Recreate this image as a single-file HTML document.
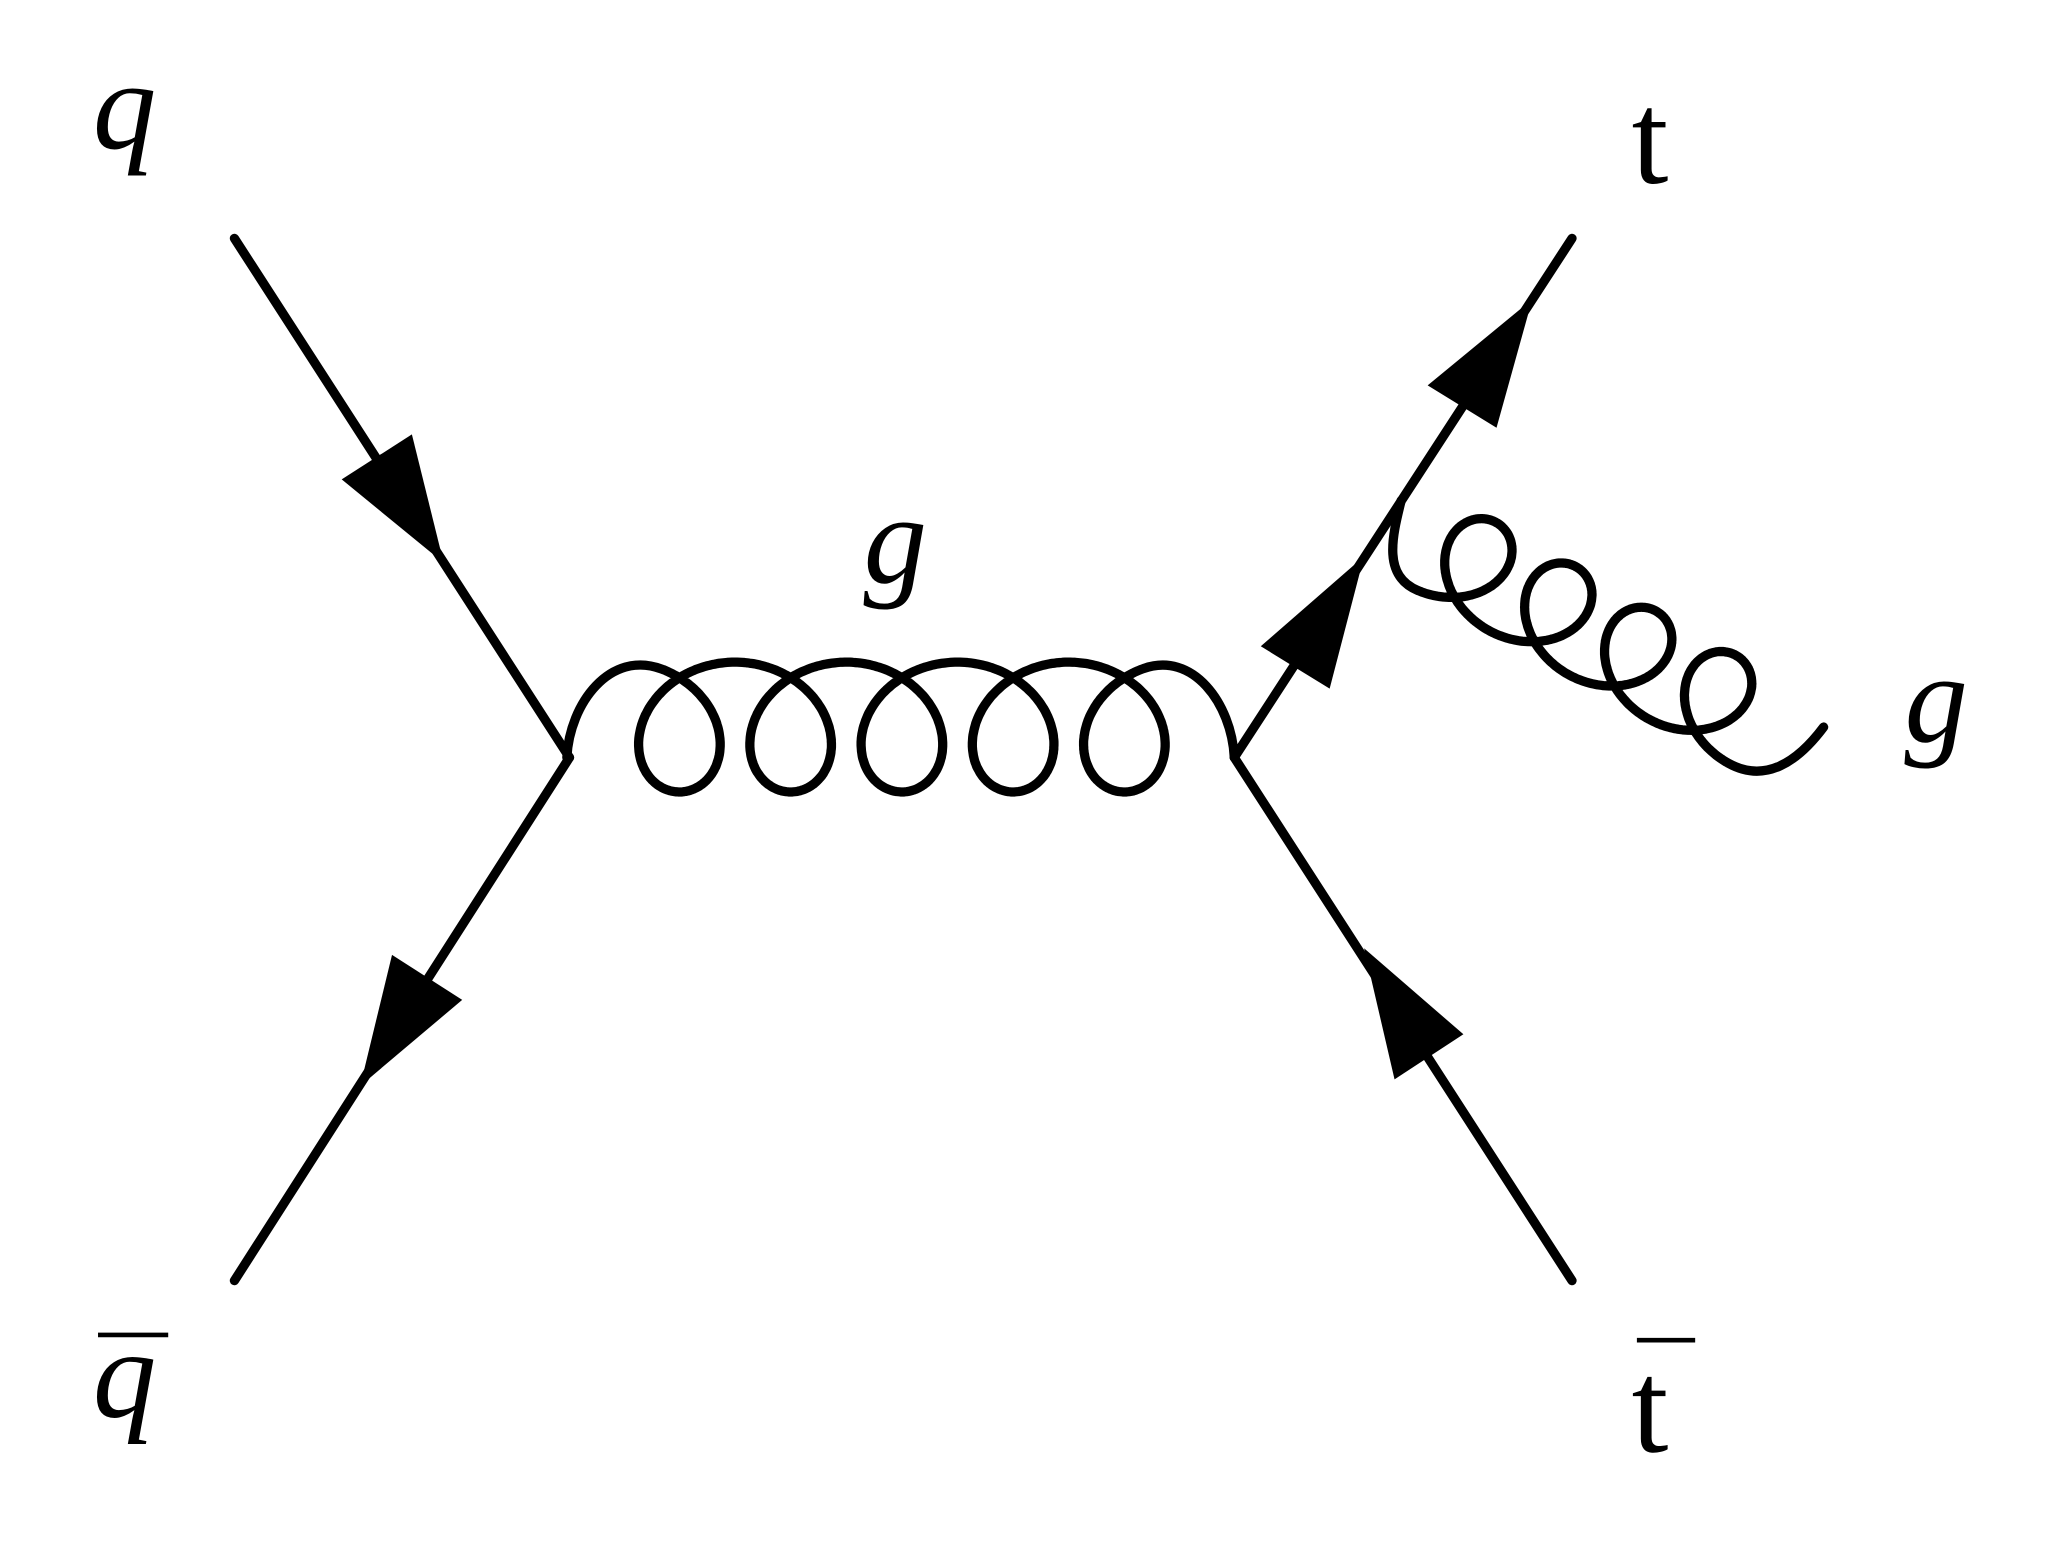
<!DOCTYPE html>
<html><head><meta charset="utf-8"><style>
html,body{margin:0;padding:0;background:#fff;}
svg{display:block;}
text{font-family:"Liberation Serif",serif;fill:#000;}
</style></head><body>
<svg id="s" width="2066" height="1550" viewBox="0 0 1560 1170.4" xmlns="http://www.w3.org/2000/svg">
<g stroke="#000" stroke-width="7" stroke-linecap="round" stroke-linejoin="round" fill="none">
<line x1="177" y1="180" x2="430" y2="572"/>
<line x1="430" y1="572" x2="177" y2="967"/>
<line x1="932" y1="572" x2="1187" y2="180"/>
<line x1="932" y1="572" x2="1187" y2="967"/>
<path id="g1" d=""/>
<path id="g2" d=""/>
</g>
<g fill="#000">
<polygon points="335,425 258,362 311,328"/>
<polygon points="272,820 296,721 349,755"/>
<polygon points="1157,226 1078,291 1130,323"/>
<polygon points="1030,420 952,488 1004,520"/>
<polygon points="1053,815 1030,716 1105,781"/>
</g>
<text x="70" y="112" font-size="96" font-style="italic">q</text>
<text x="1232" y="138" font-size="100">t</text>
<text x="652" y="440" font-size="96" font-style="italic">g</text>
<text x="1438" y="560" font-size="96" font-style="italic">g</text>
<line x1="74" y1="1008" x2="127" y2="1008" stroke="#000" stroke-width="3.5"/>
<text x="70" y="1070" font-size="96" font-style="italic">q</text>
<line x1="1236" y1="1012" x2="1280" y2="1012" stroke="#000" stroke-width="3.5"/>
<text x="1232" y="1096" font-size="100">t</text>
</svg>
<script>
(function(){
  function f(v){return v.toFixed(1);}
  function norm(v){var l=Math.hypot(v[0],v[1]);return [v[0]/l,v[1]/l];}
  // cubic from S (dir ds) to E (arriving dir de)
  function cub(S,ds,E,de){var L=Math.hypot(E[0]-S[0],E[1]-S[1])*0.42;ds=norm(ds);de=norm(de);
    return "C"+f(S[0]+ds[0]*L)+","+f(S[1]+ds[1]*L)+" "+f(E[0]-de[0]*L)+","+f(E[1]-de[1]*L)+" "+f(E[0])+","+f(E[1])+" ";}
  var A=50,B=49,p=84,c=429,ym=549;
  function P(u){return [c+p*u/(2*Math.PI)-A*Math.sin(u), ym+B*Math.cos(u)];}
  function T(u){return [p/(2*Math.PI)-A*Math.cos(u), -B*Math.sin(u)];}
  var u0=3.6,u1=12*Math.PI-3.6;
  var d="M428,572 "+cub([428,572],[0.05,-1],P(u0),T(u0));
  for(var u=u0;u<=u1;u+=0.03){var q=P(u);d+="L"+f(q[0])+","+f(q[1])+" ";}
  var e=P(u1); d+="L"+f(e[0])+","+f(e[1])+" "+cub(e,T(u1),[932,572],[0.05,1]);
  document.getElementById("g1").setAttribute("d",d);

  var A2=40,B2=37,p2=69,th=29*Math.PI/180;
  var dx=Math.cos(th),dy=Math.sin(th),mx=Math.sin(th),my=-Math.cos(th);
  var Ox=1051.4,Oy=393.4;
  function Q(u){var xl=p2*u/(2*Math.PI)-A2*Math.sin(u),w=B2*Math.cos(u);
    return [Ox+xl*dx+w*mx, Oy+xl*dy+w*my];}
  function QT(u){var a=p2/(2*Math.PI)-A2*Math.cos(u),b=-B2*Math.sin(u);
    return [a*dx+b*mx, a*dy+b*my];}
  var s0=3.3,uEnd=9*Math.PI;
  var d2="M1058,378 "+cub([1058,378],[-0.25,1],Q(s0),QT(s0));
  for(var u=s0;u<=uEnd;u+=0.03){var q=Q(u);d2+="L"+f(q[0])+","+f(q[1])+" ";}
  var z=Q(uEnd); d2+="L"+f(z[0])+","+f(z[1])+" "+cub(z,QT(uEnd),[1377,549],[0.6,-0.8]);
  document.getElementById("g2").setAttribute("d",d2);
})();
</script>
</body></html>
